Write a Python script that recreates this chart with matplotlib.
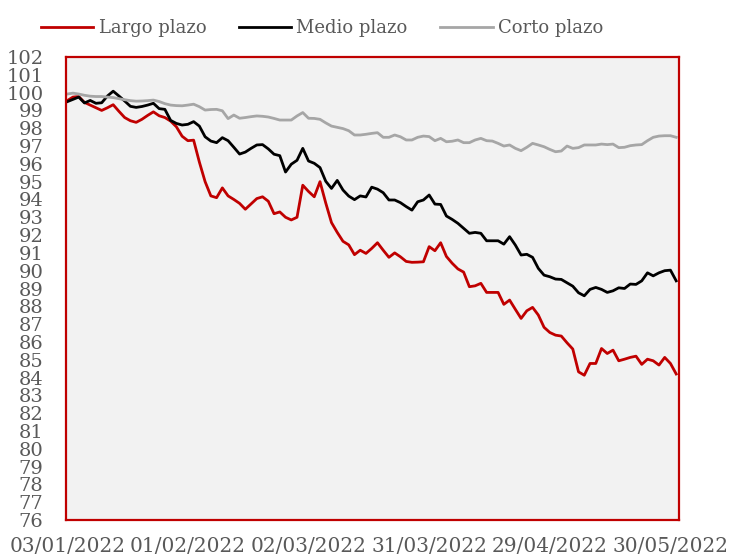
import matplotlib
matplotlib.use("Agg")
import matplotlib.pyplot as plt
import numpy as np

RED, BLACK, GREY = "#C00000", "#000000", "#A6A6A6"
PANEL, TEXT = "#F2F2F2", "#595959"

# daily index values (base 100), business days from 03/01/2022
largo = [
    99.55, 99.75, 99.78, 99.45, 99.30, 99.15, 99.00, 99.15, 99.32, 98.95,
    98.60, 98.42, 98.33, 98.50, 98.72, 98.92, 98.70, 98.60, 98.40, 98.08,
    97.55, 97.30, 97.33, 96.10, 95.00, 94.20, 94.10, 94.65, 94.20, 94.00,
    93.78, 93.45, 93.75, 94.05, 94.15, 93.90, 93.20, 93.30, 93.00, 92.85,
    93.00, 94.80, 94.45, 94.15, 95.00, 93.80, 92.70, 92.15, 91.65, 91.45,
    90.90, 91.15, 90.97, 91.25, 91.57, 91.15, 90.75, 91.00, 90.78, 90.52,
    90.47, 90.48, 90.50, 91.35, 91.12, 91.57, 90.80, 90.42, 90.10, 89.92,
    89.10, 89.15, 89.29, 88.78, 88.78, 88.78, 88.11, 88.35, 87.83, 87.32,
    87.75, 87.94, 87.51, 86.82, 86.53, 86.38, 86.33, 85.95, 85.60, 84.32,
    84.13, 84.79, 84.79, 85.63, 85.35, 85.54, 84.94, 85.03, 85.13, 85.20,
    84.74, 85.03, 84.94, 84.70, 85.13, 84.79, 84.20,
]
medio = [
    99.49, 99.62, 99.75, 99.42, 99.56, 99.40, 99.43, 99.81, 100.08, 99.81,
    99.53, 99.23, 99.17, 99.22, 99.30, 99.40, 99.10, 99.06, 98.44, 98.27,
    98.18, 98.22, 98.37, 98.12, 97.52, 97.28, 97.19, 97.47, 97.30, 96.93,
    96.55, 96.66, 96.87, 97.06, 97.08, 96.84, 96.54, 96.46, 95.54, 95.98,
    96.20, 96.87, 96.16, 96.03, 95.79, 95.02, 94.62, 95.07, 94.53, 94.19,
    93.99, 94.20, 94.14, 94.69, 94.58, 94.38, 93.97, 93.97, 93.82, 93.60,
    93.40, 93.87, 93.97, 94.25, 93.74, 93.72, 93.07, 92.88, 92.66, 92.38,
    92.10, 92.15, 92.10, 91.68, 91.68, 91.68, 91.49, 91.91, 91.44, 90.88,
    90.92, 90.75, 90.13, 89.75, 89.66, 89.53, 89.51, 89.32, 89.13, 88.76,
    88.59, 88.95, 89.06, 88.95, 88.78, 88.87, 89.04, 89.00, 89.25, 89.23,
    89.43, 89.88, 89.71, 89.88, 90.00, 90.03, 89.43,
]
corto = [
    99.92, 99.97, 99.92, 99.85, 99.80, 99.78, 99.78, 99.75, 99.72, 99.66,
    99.60, 99.55, 99.52, 99.53, 99.55, 99.58, 99.50, 99.38, 99.30, 99.27,
    99.26, 99.30, 99.35, 99.21, 99.02, 99.05, 99.06, 98.98, 98.54, 98.74,
    98.56, 98.60, 98.65, 98.69, 98.67, 98.63, 98.55, 98.46, 98.46, 98.46,
    98.69, 98.88, 98.56, 98.55, 98.50, 98.30, 98.12, 98.05, 97.98, 97.86,
    97.62, 97.62, 97.66, 97.71, 97.75, 97.49, 97.49, 97.62, 97.52, 97.34,
    97.34, 97.49, 97.56, 97.53, 97.30, 97.43, 97.24, 97.27, 97.34, 97.19,
    97.19, 97.34, 97.43, 97.30, 97.28, 97.15, 97.00, 97.06, 96.87, 96.74,
    96.93, 97.15, 97.06, 96.96, 96.81, 96.68, 96.72, 97.00, 96.87, 96.91,
    97.06, 97.06, 97.06, 97.11, 97.08, 97.11, 96.91, 96.93, 97.02, 97.06,
    97.08, 97.30, 97.49, 97.56, 97.58, 97.58, 97.49,
]
date_labels = ["03/01/2022", "01/02/2022", "02/03/2022",
               "31/03/2022", "29/04/2022", "30/05/2022"]
label_step = 21

plt.rcParams["font.family"] = ["DejaVu Serif"]

W, H = 730, 560
fig = plt.figure(figsize=(W / 100, H / 100), dpi=100)
ax = fig.add_axes([65.5 / W, 1 - 520 / H, 613 / W, 463 / H])
ax.set_facecolor(PANEL)

x = np.arange(len(largo))
ax.plot(x, largo, color=RED, lw=2.0, label="Largo plazo")
ax.plot(x, medio, color=BLACK, lw=2.0, label="Medio plazo")
ax.plot(x, corto, color=GREY, lw=2.0, label="Corto plazo")

ax.set_xlim(-0.3, len(x) - 1 + 0.4)
ax.set_ylim(76, 102)
ax.set_yticks(range(76, 103))
ax.set_xticks(np.arange(len(date_labels)) * label_step)
ax.set_xticklabels(date_labels)
ax.tick_params(axis="y", length=0, pad=16, labelsize=14, labelcolor=TEXT)
ax.tick_params(axis="x", length=0, pad=12, labelsize=14.5, labelcolor=TEXT)

for s in ax.spines.values():
    s.set_color(RED)
    s.set_linewidth(1.6)

fig.legend(loc="center", bbox_to_anchor=(322 / W, 1 - 28 / H), ncol=3,
           frameon=False, fontsize=13, labelcolor=TEXT, handlelength=2.9,
           handletextpad=0.3, columnspacing=1.8)

fig.savefig("out.png", dpi=100)
